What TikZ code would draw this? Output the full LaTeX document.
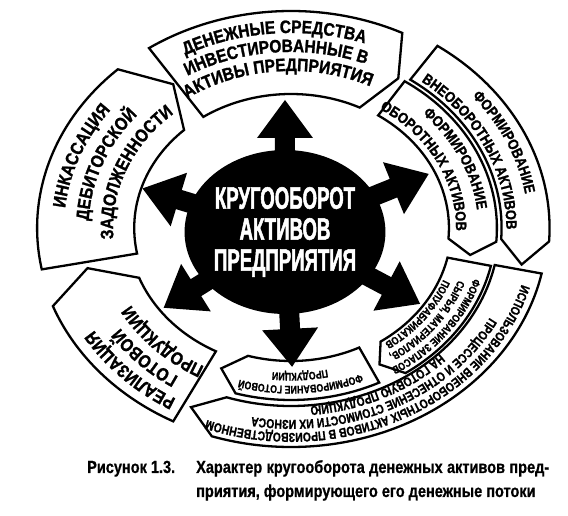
\documentclass[tikz,border=0pt]{standalone}
\usepackage{fontspec}
\setmainfont{Liberation Sans}
\newfontfamily\widefont[UprightFont={* Bold}, FakeStretch=0.86, FakeBold=1.3]{Liberation Sans}
\newfontfamily\midfont[UprightFont={* Bold}, FakeStretch=0.85, FakeBold=1.2]{Liberation Sans}
\newfontfamily\narrowfont[UprightFont={* Bold}, FakeStretch=0.8, FakeBold=1]{Liberation Sans}
\newfontfamily\hubfont[UprightFont={* Bold}, FakeStretch=0.6, FakeBold=1.6]{Liberation Sans}
\newfontfamily\figfont[UprightFont={* Bold}, FakeStretch=0.83, FakeBold=0.7]{Liberation Sans}
\usetikzlibrary{decorations.text,shapes.geometric,positioning}

\newcommand{\kx}{1.17}
\newcommand{\bigtype}{\widefont\fontsize{18}{18}\selectfont}
\newcommand{\midtype}{\midfont\fontsize{15}{15}\selectfont}
\newcommand{\longtype}{\narrowfont\fontsize{13}{13}\selectfont}
\newcommand{\smalltype}{\narrowfont\fontsize{11}{11}\selectfont}

% band: start angle, end angle, tip angle, inner r, outer r
\newcommand{\band}[5]{%
	\draw[band] ({\kx*#5*cos(#1)},{#5*sin(#1)})
		arc[start angle=#1, end angle=#2, x radius=\kx*#5pt, y radius=#5pt]
		-- ({\kx*(#4+#5)/2*cos(#3)},{(#4+#5)/2*sin(#3)})
		-- ({\kx*#4*cos(#2)},{#4*sin(#2)})
		arc[start angle=#2, end angle=#1, x radius=\kx*#4pt, y radius=#4pt]
		-- cycle;}
% text line: centre angle, baseline r, font, text
\newcommand{\bandtext}[4]{%
	\path[decorate, decoration={text along path, text align=center,
		text={|#3|#4}}]
		({\kx*#2*cos(#1+85)},{#2*sin(#1+85)})
		arc[start angle=#1+85, end angle=#1-85, x radius=\kx*#2pt, y radius=#2pt];}

\begin{document}
\begin{tikzpicture}[x=1pt, y=1pt]
	\tikzstyle{band} = [
		draw, line width=2.3pt, fill=white, line join=miter];
	\tikzstyle{hub} = [
		ellipse, fill=black, text=white,
		minimum width=192pt, minimum height=164pt, inner sep=0pt,
		align=center, font={\hubfont\fontsize{31}{31}\selectfont}];
	\tikzstyle{spoke} = [
		fill=black];
	\tikzstyle{caption} = [
		inner sep=0pt, font={\figfont\fontsize{17.5}{24}\selectfont}];

	\useasboundingbox (-291,-288) rectangle (277,228);

	\band{124}{64}{58.5}{134}{217}
	\band{55.5}{-3.5}{-10.5}{180}{221}
	\band{56.5}{-4.5}{-10}{135}{176}
	\band{-12.5}{-56}{-61}{137}{175}
	\band{-12}{-108}{-115.5}{178}{219}
	\band{-64}{-106}{-113}{133}{172}
	\band{242.5}{201}{193}{139}{218}
	\band{191}{133}{125}{134}{217}

	\bandtext{95}{195}{\bigtype}{ДЕНЕЖНЫЕ СРЕДСТВА}
	\bandtext{95}{176}{\bigtype}{ИНВЕСТИРОВАННЫЕ В}
	\bandtext{95}{157}{\bigtype}{АКТИВЫ ПРЕДПРИЯТИЯ}

	\bandtext{22}{203}{\midtype}{ФОРМИРОВАНИЕ}
	\bandtext{23.5}{184}{\midtype}{ВНЕОБОРОТНЫХ АКТИВОВ}
	\bandtext{23}{160}{\midtype}{ФОРМИРОВАНИЕ}
	\bandtext{25.5}{141}{\midtype}{ОБОРОТНЫХ АКТИВОВ}

	\bandtext{-34.5}{164}{\smalltype}{ФОРМИРОВАНИЕ ЗАПАСОВ}
	\bandtext{-34.5}{152}{\smalltype}{СЫРЬЯ, МАТЕРИАЛОВ,}
	\bandtext{-34.5}{140}{\smalltype}{ПОЛУФАБРИКАТОВ}

	\bandtext{-61.5}{205}{\longtype}{ИСПОЛЬЗОВАНИЕ ВНЕОБОРОТНЫХ АКТИВОВ В ПРОИЗВОДСТВЕННОМ}
	\bandtext{-61.5}{192}{\longtype}{ПРОЦЕССЕ И ОТНЕСЕНИЕ СТОИМОСТИ ИХ ИЗНОСА}
	\bandtext{-61.5}{179}{\longtype}{НА ГОТОВУЮ ПРОДУКЦИЮ}

	\bandtext{-86.5}{158}{\smalltype}{ФОРМИРОВАНИЕ ГОТОВОЙ}
	\bandtext{-86.5}{145}{\smalltype}{ПРОДУКЦИИ}

	\bandtext{221.5}{197}{\bigtype}{РЕАЛИЗАЦИЯ}
	\bandtext{221.5}{177}{\bigtype}{ГОТОВОЙ}
	\bandtext{221.5}{157}{\bigtype}{ПРОДУКЦИИ}

	\bandtext{161}{194}{\bigtype}{ИНКАССАЦИЯ}
	\bandtext{161}{173}{\bigtype}{ДЕБИТОРСКОЙ}
	\bandtext{160}{152}{\bigtype}{ЗАДОЛЖЕННОСТИ}

	\coordinate (hubc) at (-6,-4);
	\foreach \a/\l in {90/132, 22/155, -28/153, -87/135, 212/143, 163/149}
		\fill[spoke, shift={(hubc)}, rotate=\a]
			(0,-10) -- (\l-38,-10) -- (\l-38,-28) -- (\l,0)
			-- (\l-38,28) -- (\l-38,10) -- (0,10) -- cycle;
	\node[hub] (core) at (hubc) {КРУГООБОРОТ\\АКТИВОВ\\ПРЕДПРИЯТИЯ};

	\node[caption, anchor=base west] (figno) at (-204,-245) {Рисунок 1.3.};
	\node[caption, anchor=base west] (capa) at (-95,-245)
		{\makebox[353pt][s]{Характер кругооборота денежных активов пред-}};
	\node[caption, anchor=base west] (capb) at ([yshift=-24pt]capa.base west)
		{приятия, формирующего его денежные потоки};
\end{tikzpicture}
\end{document}
